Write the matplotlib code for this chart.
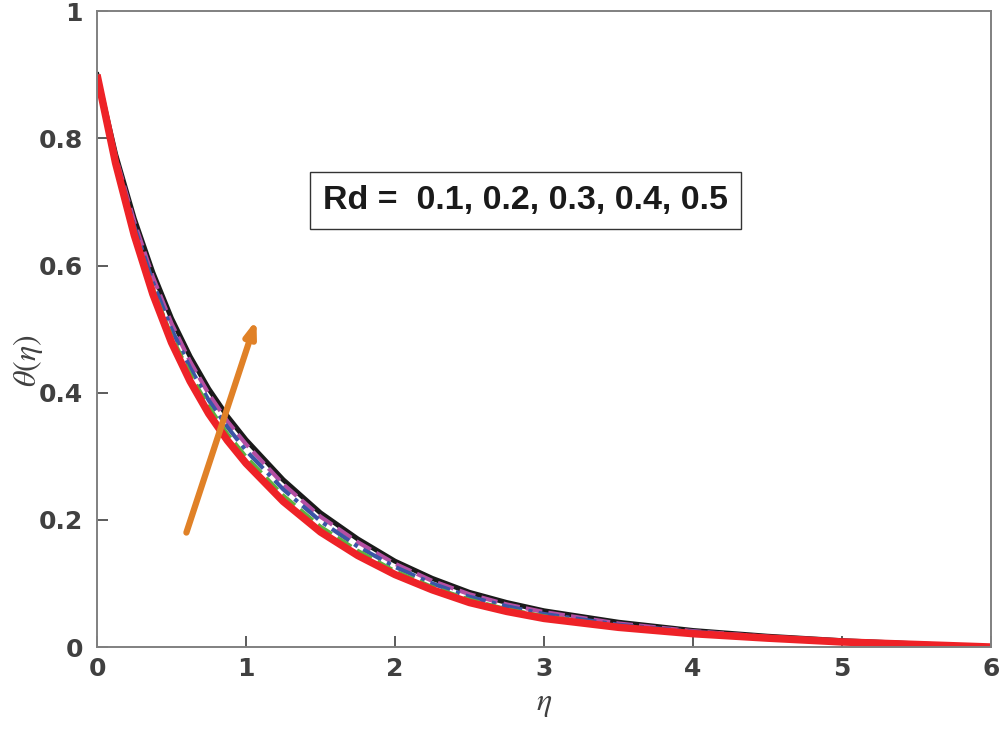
import numpy as np
import matplotlib
matplotlib.use("Agg")
import matplotlib.pyplot as plt

plt.rcParams['mathtext.fontset'] = 'stix'

# eta grid and temperature profiles
eta = [0, 0.125, 0.25, 0.375, 0.5, 0.625, 0.75, 0.875, 1.0, 1.25, 1.5, 1.75,
       2.0, 2.25, 2.5, 2.75, 3.0, 3.5, 4.0, 4.5, 5.0, 5.5, 6.0]
theta_red = [0.900, 0.761, 0.648, 0.555, 0.479, 0.418, 0.367, 0.325, 0.289, 0.229, 0.181, 0.144,
             0.114, 0.090, 0.070, 0.056, 0.045, 0.031, 0.021, 0.014, 0.008, 0.004, 0.000]
theta_green = [0.900, 0.765, 0.656, 0.565, 0.490, 0.430, 0.379, 0.336, 0.300, 0.239, 0.190, 0.152,
               0.120, 0.095, 0.075, 0.060, 0.049, 0.033, 0.023, 0.015, 0.009, 0.004, 0.000]
theta_blue = [0.900, 0.769, 0.662, 0.574, 0.500, 0.439, 0.388, 0.346, 0.309, 0.248, 0.198, 0.158,
              0.126, 0.100, 0.079, 0.064, 0.052, 0.035, 0.024, 0.016, 0.009, 0.005, 0.000]
theta_magenta = [0.900, 0.772, 0.669, 0.582, 0.509, 0.449, 0.398, 0.355, 0.319, 0.256, 0.205, 0.165,
                 0.131, 0.104, 0.083, 0.067, 0.055, 0.037, 0.025, 0.016, 0.010, 0.005, 0.000]
theta_black = [0.900, 0.775, 0.674, 0.589, 0.517, 0.457, 0.406, 0.363, 0.326, 0.263, 0.211, 0.170,
               0.135, 0.108, 0.086, 0.070, 0.057, 0.039, 0.026, 0.017, 0.010, 0.005, 0.000]

x_ticks = [0, 1, 2, 3, 4, 5, 6]
y_ticks = [0, 0.2, 0.4, 0.6, 0.8, 1]
y_tick_labels = ['0', '0.2', '0.4', '0.6', '0.8', '1']

fig = plt.figure(figsize=(10, 7.45), dpi=100)
ax = fig.add_axes([0.097, 0.1315, 0.894, 0.8535])

ax.plot(eta, theta_black, color='#1a1a1a', lw=3.6, ls='-')
ax.plot(eta, theta_magenta, color='#b44fa3', lw=3.0, ls=(0, (4, 1.5)))
ax.plot(eta, theta_blue, color='#3b55a6', lw=3.0, ls=(0, (5, 1.5, 1, 1.5)))
ax.plot(eta, theta_green, color='#5cb140', lw=2.4, ls=(0, (5, 2)))
ax.plot(eta, theta_red, color='#ee2227', lw=5.4, ls='-', solid_capstyle='butt')

ax.annotate('', xy=(1.07, 0.515), xytext=(0.6, 0.18),
            arrowprops=dict(arrowstyle='-|>,head_length=0.9,head_width=0.32',
                            color='#e08127', lw=4.5, shrinkA=0, shrinkB=0))

ax.text(2.875, 0.702, 'Rd =  0.1, 0.2, 0.3, 0.4, 0.5', ha='center', va='center',
        fontsize=24.5, fontweight='bold', family='Liberation Sans', color='#1a1a1a',
        bbox=dict(boxstyle='square,pad=0.38', fc='white', ec='#333333', lw=1.0))

ax.set_xlim(0, 6)
ax.set_ylim(0, 1)
ax.set_xticks(x_ticks)
ax.set_yticks(y_ticks)
ax.set_yticklabels(y_tick_labels)
ax.tick_params(direction='in', length=8, width=1.2, colors='#404040', labelsize=18,
               top=False, right=False)
ax.tick_params(axis='x', pad=7)
ax.tick_params(axis='y', pad=10)
for lab in ax.get_xticklabels() + ax.get_yticklabels():
    lab.set_fontweight('bold')
    lab.set_family('DejaVu Sans')
for sp in ax.spines.values():
    sp.set_color('#808080')
    sp.set_linewidth(1.4)

ax.set_xlabel(r'$\eta$', fontsize=23, color='#404040')
ax.set_ylabel(r'$\theta(\eta)$', fontsize=23, color='#404040')
ax.xaxis.set_label_coords(0.5, -0.065)
ax.yaxis.set_label_coords(-0.058, 0.45)

fig.savefig('out.png', dpi=100)
